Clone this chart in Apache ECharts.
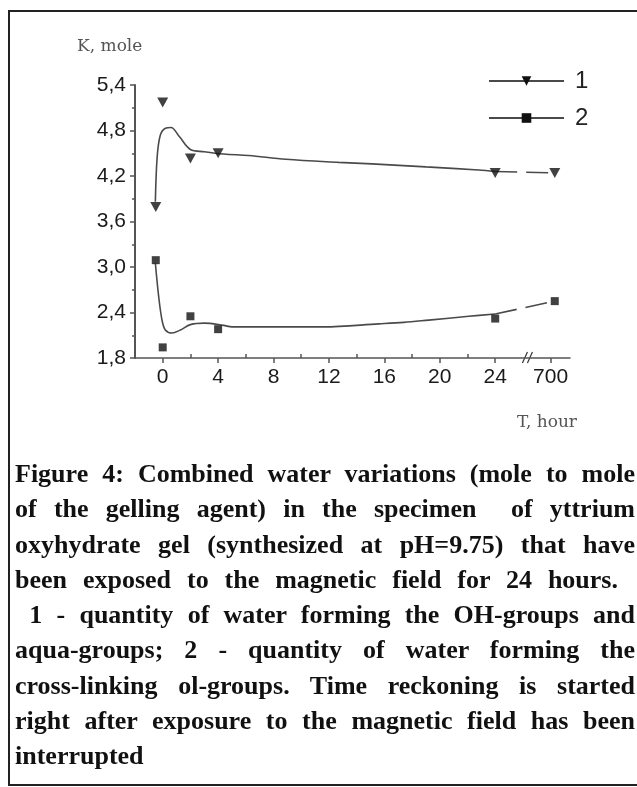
<!DOCTYPE html>
<html>
<head>
<meta charset="utf-8">
<title>Figure 4</title>
<script src="https://cdn.jsdelivr.net/npm/echarts@6.0.0/dist/echarts.min.js"></script>
<style>
body{margin:0;background:#fff;}
.figbox{position:absolute;left:8px;top:10px;width:640px;height:772px;border:2px solid #222;border-right:none;}
#chart{position:absolute;left:0;top:0;width:637px;height:787px;}
.caption{position:absolute;left:15px;top:456px;width:620px;font-family:"Liberation Serif",serif;font-weight:bold;font-size:26px;line-height:35.3px;color:#111;}
.caption div{text-align:justify;text-align-last:justify;}
.caption div.short{width:603px;}
.caption div.last{text-align-last:left;}
</style>
</head>
<body>
<div class="figbox"></div>
<div id="chart"></div>
<div class="caption">
  <div>Figure 4: Combined water variations (mole to mole</div>
  <div>of the gelling agent) in the specimen&nbsp; of yttrium</div>
  <div>oxyhydrate gel (synthesized at pH=9.75) that have</div>
  <div class="short">been exposed to the magnetic field for 24 hours.</div>
  <div>&nbsp;1 - quantity of water forming the OH-groups and</div>
  <div>aqua-groups; 2 - quantity of water forming the</div>
  <div>cross-linking ol-groups. Time reckoning is started</div>
  <div>right after exposure to the magnetic field has been</div>
  <div class="last">interrupted</div>
</div>
<script>
// measured points (x = hours, 700 h sits after the axis break at position 28.3)
var hoursPos = [-0.5, 0, 2, 4, 24, 28.3];
var water1 = [3.79, 5.17, 4.43, 4.50, 4.24, 4.24];
var water2 = [3.09, 1.94, 2.35, 2.18, 2.32, 2.55];

// fitted curves as drawn in the figure
var fit1X = [-0.53, -0.4, -0.17, 0.2, 0.6, 1.2, 2.0, 3.0, 4.4, 6.2, 8.9, 12.7, 15.1, 19, 22.8, 24];
var fit1Y = [3.86, 4.45, 4.74, 4.83, 4.84, 4.72, 4.55, 4.52, 4.49, 4.47, 4.42, 4.38, 4.36, 4.32, 4.28, 4.26];
var fit1DashX = [24, 28.3];
var fit1DashY = [4.26, 4.24];

var fit2X = [-0.53, -0.29, -0.05, 0.19, 0.67, 1.28, 2.0, 3.0, 4.4, 5.0, 8, 11.6, 15.6, 17.4, 19.2, 22.1, 24];
var fit2Y = [3.05, 2.61, 2.30, 2.17, 2.13, 2.17, 2.24, 2.26, 2.23, 2.21, 2.21, 2.21, 2.25, 2.27, 2.30, 2.35, 2.38];
var fit2DashX = [24, 28.3];
var fit2DashY = [2.38, 2.55];

// x tick labels
var xTickPos = [0, 4, 8, 12, 16, 20, 24, 28];
var xTickLabels = ['0', '4', '8', '12', '16', '20', '24', '700'];
var xMinorPos = [-2, 2, 6, 10, 14, 18, 22];
var breakPos = 26.4;

function pairs(xs, ys) {
  return xs.map(function (x, i) { return [x, ys[i]]; });
}

var chart = echarts.init(document.getElementById('chart'));
var axisColor = '#555';
var lineColor = '#4a4a4a';

chart.setOption({
  animation: false,
  grid: {left: 135, top: 85, width: 435, height: 273},
  legend: {
    orient: 'vertical',
    left: 483,
    top: 64,
    itemWidth: 75,
    itemHeight: 12,
    itemGap: 13,
    data: ['1', '2'],
    textStyle: {fontFamily: 'Liberation Sans', fontSize: 24, lineHeight: 24, color: '#222', padding: [0, 0, 0, 6]}
  },
  xAxis: [
    {
      type: 'value',
      position: 'bottom',
      min: -2,
      max: 29.4,
      axisLine: {onZero: false, lineStyle: {color: axisColor, width: 1.5}},
      axisTick: {customValues: xTickPos, length: 5, lineStyle: {color: axisColor, width: 1.5}},
      axisLabel: {
        customValues: xTickPos,
        margin: 9,
        fontFamily: 'Liberation Sans',
        fontSize: 21,
        color: '#1a1a1a',
        formatter: function (v) { return xTickLabels[xTickPos.indexOf(v)]; }
      },
      splitLine: {show: false}
    },
    {
      type: 'value',
      position: 'bottom',
      min: -2,
      max: 29.4,
      axisLine: {show: false, onZero: false},
      axisTick: {customValues: xMinorPos, inside: true, length: 4, lineStyle: {color: axisColor, width: 1.5}},
      axisLabel: {show: false},
      splitLine: {show: false}
    }
  ],
  yAxis: {
    type: 'value',
    min: 1.8,
    max: 5.4,
    interval: 0.6,
    axisLine: {show: true, onZero: false, lineStyle: {color: axisColor, width: 2}},
    axisTick: {show: true, length: 5, lineStyle: {color: axisColor, width: 1.5}},
    minorTick: {show: true, splitNumber: 2, length: 3, lineStyle: {color: axisColor, width: 1.5}},
    axisLabel: {
      margin: 9,
      fontFamily: 'Liberation Sans',
      fontSize: 21,
      color: '#1a1a1a',
      formatter: function (v) { return v.toFixed(1).replace('.', ','); }
    },
    splitLine: {show: false}
  },
  series: [
    {
      name: '1',
      type: 'line',
      smooth: 0.35,
      showSymbol: false,
      symbol: 'triangle',
      symbolRotate: 180,
      lineStyle: {color: lineColor, width: 1.6},
      itemStyle: {color: '#111'},
      data: pairs(fit1X, fit1Y),
      z: 2
    },
    {
      name: '1',
      type: 'line',
      showSymbol: false,
      lineStyle: {color: lineColor, width: 1.6, type: [22, 9]},
      data: pairs(fit1DashX, fit1DashY),
      z: 2
    },
    {
      name: '2',
      type: 'line',
      smooth: 0.35,
      showSymbol: false,
      symbol: 'rect',
      lineStyle: {color: lineColor, width: 1.6},
      itemStyle: {color: '#111'},
      data: pairs(fit2X, fit2Y),
      z: 2
    },
    {
      name: '2',
      type: 'line',
      showSymbol: false,
      lineStyle: {color: lineColor, width: 1.6, type: [22, 9]},
      data: pairs(fit2DashX, fit2DashY),
      z: 2
    },
    {
      name: 'pts1',
      type: 'scatter',
      symbol: 'triangle',
      symbolRotate: 180,
      symbolSize: [11, 10],
      itemStyle: {color: '#111'},
      data: pairs(hoursPos, water1),
      z: 3
    },
    {
      name: 'pts2',
      type: 'scatter',
      symbol: 'rect',
      symbolSize: 8,
      itemStyle: {color: '#111'},
      data: pairs(hoursPos, water2),
      z: 3
    }
  ]
});

// axis titles and the break mark on the time axis
var br = chart.convertToPixel({gridIndex: 0}, [breakPos, 1.8]);
chart.setOption({
  graphic: [
    {type: 'text', left: 77, top: 38, style: {text: 'K, mole', font: '17px "DejaVu Serif"', fill: '#555'}},
    {type: 'text', right: 60, top: 414, style: {text: 'T, hour', font: '17px "DejaVu Serif"', fill: '#555'}},
    {type: 'line', shape: {x1: br[0] - 6, y1: br[1] + 5, x2: br[0] - 1, y2: br[1] - 6}, style: {stroke: '#333', lineWidth: 1.2}},
    {type: 'line', shape: {x1: br[0] - 1, y1: br[1] + 5, x2: br[0] + 4, y2: br[1] - 6}, style: {stroke: '#333', lineWidth: 1.2}}
  ]
});
</script>
</body>
</html>
